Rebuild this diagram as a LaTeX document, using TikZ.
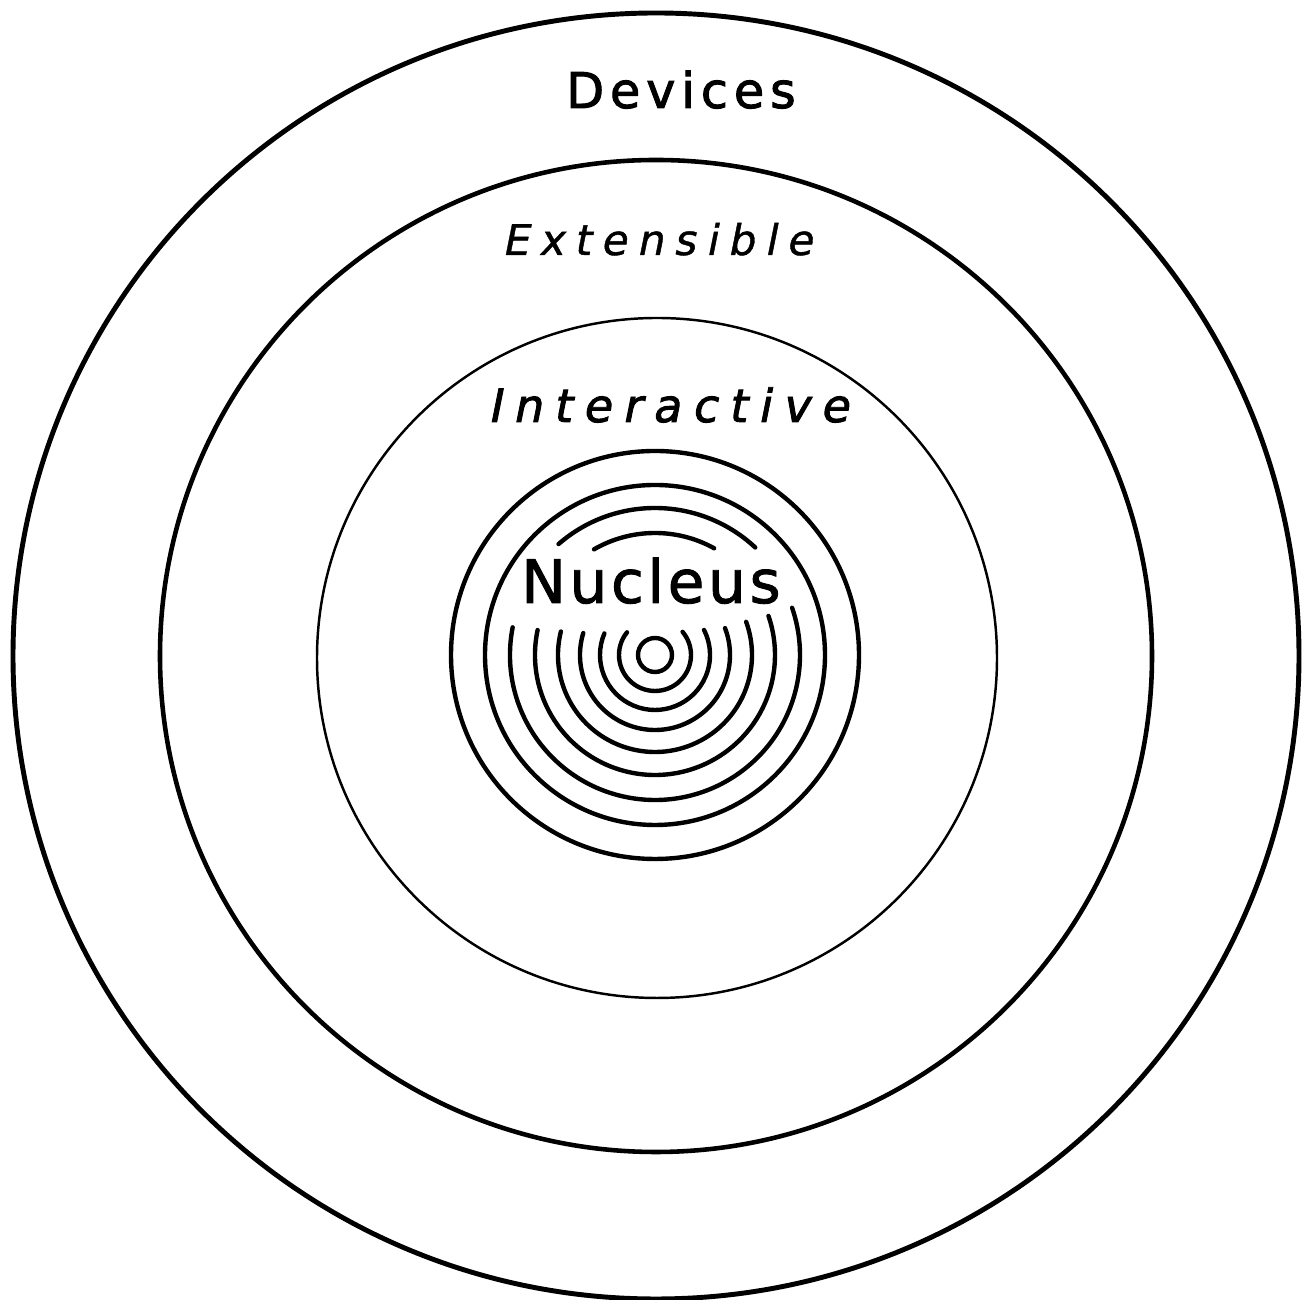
\documentclass[tikz,border=0pt]{standalone}
\usepackage{fontspec}
\newfontfamily\letterfont{DejaVu Sans}
\usetikzlibrary{positioning}

\begin{document}
\begin{tikzpicture}[
  x=0.01cm, y=0.01cm,
  every node/.style={font=\letterfont, inner sep=0pt, anchor=base},
  shell/.style={draw=black, line width=1.3pt},
  thinshell/.style={draw=black, line width=0.7pt},
  ring/.style={draw=black, line width=1.25pt, line cap=round}
]
  \useasboundingbox (0,0) rectangle (1302,1300);
  \coordinate (ctr) at (656,644);
  \coordinate (nuc) at (655,645);

  % layers
  \draw[shell, line width=1.4pt] (ctr) circle[radius=643];
  \draw[shell] (ctr) circle[radius=496];
  \draw[thinshell] (657,642) circle[radius=340];

  % nucleus, closed rings
  \draw[ring] (nuc) circle[radius=204];
  \draw[ring] (nuc) circle[radius=170];
  % rings broken by the word
  \foreach \r/\a/\b in {145/169/379, 120/168/379, 97/166/380, 75/163/381, 55/157/387, 36/141/400}
    \draw[ring] ([shift={(\a:\r)}]nuc) arc[start angle=\a, end angle=\b, radius=\r];
  \draw[ring] ([shift={(47:147)}]nuc) arc[start angle=47, end angle=131, radius=147];
  \draw[ring] ([shift={(61:122)}]nuc) arc[start angle=61, end angle=120, radius=122];
  \draw[ring] (nuc) circle[radius=17];

  % labels
  \node[font=\letterfont\fontsize{14}{14}\selectfont\addfontfeatures{FakeBold=2,LetterSpace=12}] (devices) at (681,1192) {Devices};
  \node[font=\letterfont\fontsize{12}{12}\selectfont\addfontfeatures{FakeSlant=0.2,FakeBold=1,LetterSpace=24}] (extensible) at (657,1045) {Extensible};
  \node[font=\letterfont\fontsize{13}{13}\selectfont\addfontfeatures{FakeSlant=0.2,FakeBold=2,LetterSpace=25}] (interactive) at (668,878) {Interactive};
  \node[font=\letterfont\fontsize{17}{17}\selectfont\addfontfeatures{FakeBold=1.5,LetterSpace=6}] (nucleus) at (651,697) {Nucleus};
\end{tikzpicture}
\end{document}
